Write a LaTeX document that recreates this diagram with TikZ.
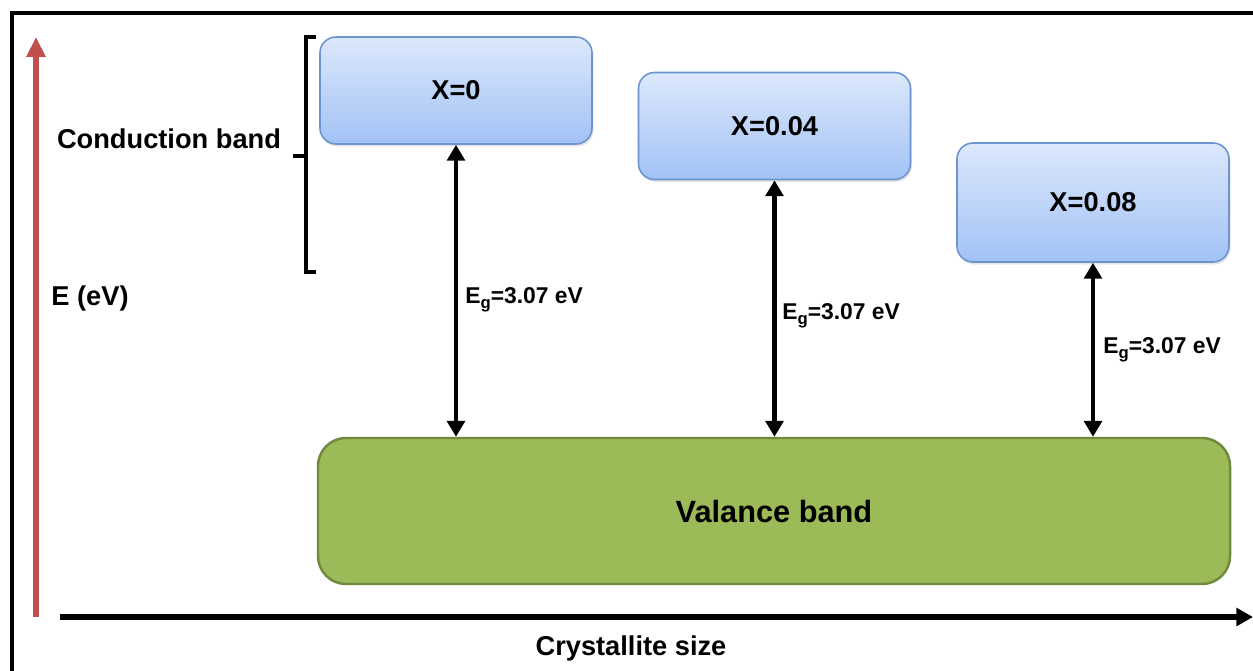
\documentclass[tikz,border=0pt]{standalone}
\usepackage{fontspec}
\setmainfont{Liberation Sans}
\usetikzlibrary{arrows.meta,shadows}
\usepackage{xcolor}

\definecolor{cbtop}{RGB}{220,232,252}
\definecolor{cbbottom}{RGB}{162,194,245}
\definecolor{cbline}{RGB}{108,148,208}
\definecolor{vbfill}{RGB}{155,187,89}
\definecolor{vbline}{RGB}{113,137,63}
\definecolor{axisred}{RGB}{192,80,77}

\newcommand{\bandgap}{E\raisebox{-3.4pt}{\fontsize{9.5}{10}\selectfont g}=3.07 eV}

\begin{document}
\begin{tikzpicture}[x=0.2mm, y=-0.2mm,
    every node/.style={
        font=\bfseries\fontsize{15.5}{18}\selectfont
    },
    cband/.style={
        rectangle,
        rounded corners=0.32cm,
        draw=cbline,
        line width=0.9pt,
        top color=cbtop,
        bottom color=cbbottom,
        minimum width=5.44cm,
        minimum height=2.14cm,
        drop shadow={opacity=0.2, shadow xshift=0.03cm, shadow yshift=-0.05cm}
    },
    gaplabel/.style={
        anchor=base west,
        inner sep=0pt,
        font=\bfseries\fontsize{13}{15}\selectfont
    },
    gaparrow/.style={
        {Triangle[width=10pt, length=9pt]}-{Triangle[width=10pt, length=9pt]},
        line width=2.8pt
    }
]
    \useasboundingbox (0,0) rectangle (1253,670);
    \clip (0,0) rectangle (1253,670);
    \draw[line width=2pt] (12,13) rectangle (1280,700);

    \node (x0) [cband, shift={(456,90.5)}]
    {
        X=0
    };
    \node (x004) [cband, shift={(774.5,126)}]
    {
        X=0.04
    };
    \node (x008) [cband, minimum height=2.38cm, shift={(1093,202.5)}]
    {
        X=0.08
    };
    \node (valance) [rectangle, rounded corners=0.56cm, draw=vbline, fill=vbfill, line width=1.4pt,
        minimum width=18.24cm, minimum height=2.92cm,
        font=\bfseries\fontsize{17.5}{20}\selectfont, shift={(774,511)}]
    {
        Valance band
    };

    \node (conduction_label) [anchor=base, shift={(169,148)}]
    {
        Conduction band
    };
    \node (energy_label) [anchor=base, shift={(90,305)}]
    {
        E (eV)
    };
    \node (size_label) [anchor=base, shift={(631,655)}]
    {
        Crystallite size
    };

    \node (gap_x0) [gaplabel, shift={(465,303)}] {\bandgap};
    \node (gap_x004) [gaplabel, shift={(782,319)}] {\bandgap};
    \node (gap_x008) [gaplabel, shift={(1103,353)}] {\bandgap};

    % axes
    \coordinate (energy_start) at (36,617);
    \coordinate (energy_end) at (36,37);
    \coordinate (size_start) at (60,617);
    \coordinate (size_end) at (1253,617);
    \draw[axisred, line width=3.4pt, -{Triangle[width=10.4pt, length=11.3pt]}] (energy_start) to (energy_end);
    \draw[line width=3.4pt, -{Triangle[width=10pt, length=9.5pt]}] (size_start) to (size_end);

    % bracket
    \draw[line width=2.3pt] (316,37) -- (306,37) -- (306,272) -- (316,272);
    \draw[line width=2.3pt] (306,156) -- (293,156);

    \draw[gaparrow] (x0.south) to (x0.south |- valance.north);
    \draw[gaparrow] (x004.south) to (x004.south |- valance.north);
    \draw[gaparrow] (x008.south) to (x008.south |- valance.north);
\end{tikzpicture}
\end{document}
